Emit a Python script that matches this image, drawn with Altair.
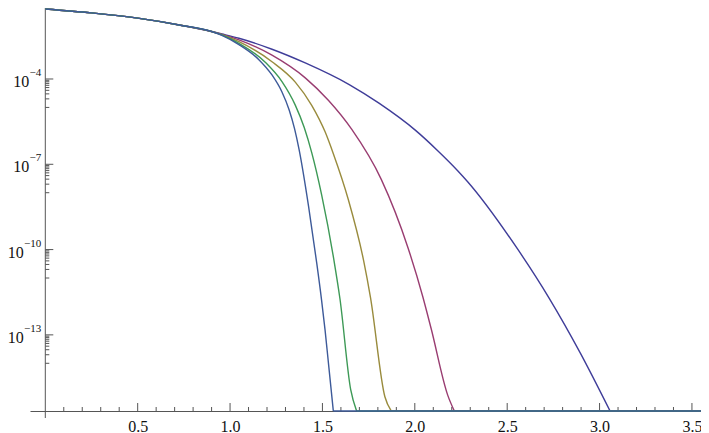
import math
import pandas as pd
import altair as alt

# ---- data (y stored as log10 of the plotted value) ----
COMMON_X = [0.0, 0.25, 0.5, 0.725, 0.9]
COMMON_LOG10_Y = [-1.538, -1.675, -1.86, -2.10, -2.33]

CURVE_NAMES = ["c1", "c2", "c3", "c4", "c5"]
CURVE_COLORS = ["#3F3D99", "#993D71", "#998B3D", "#3D9956", "#3D5A99"]

CURVE_X = [
    [0.956, 1.048, 1.227, 1.407, 1.645, 1.806, 2.004, 2.124, 2.232, 2.286, 2.555, 2.726, 2.896, 3.057],
    [0.956, 1.048, 1.227, 1.407, 1.532, 1.658, 1.819, 1.963, 2.044, 2.088, 2.178, 2.214],
    [0.956, 1.048, 1.227, 1.353, 1.442, 1.515, 1.559, 1.640, 1.723, 1.760, 1.838, 1.873],
    [0.956, 1.048, 1.192, 1.281, 1.353, 1.4015, 1.442, 1.496, 1.562, 1.595, 1.653, 1.685],
    [0.956, 1.048, 1.156, 1.227, 1.281, 1.320, 1.349, 1.3735, 1.425, 1.468, 1.495, 1.514, 1.535, 1.559],
]
CURVE_LOG10_Y = [
    [-2.417, -2.567, -2.953, -3.435, -4.196, -4.851, -5.808, -6.522, -7.225, -7.612, -9.969, -11.696, -13.641, -15.68],
    [-2.428, -2.625, -3.163, -3.961, -4.749, -5.766, -7.539, -9.934, -11.675, -12.769, -15.119, -15.68],
    [-2.442, -2.688, -3.392, -4.109, -4.925, -5.868, -6.628, -8.239, -10.391, -11.682, -15.178, -15.68],
    [-2.452, -2.744, -3.420, -4.091, -4.918, -5.709, -6.592, -8.087, -10.363, -11.738, -14.929, -15.68],
    [-2.463, -2.792, -3.319, -3.858, -4.456, -5.089, -5.746, -6.475, -8.479, -10.421, -11.758, -12.816, -14.153, -15.68],
]

Y_MAJOR = [-4, -7, -10, -13]
Y_EXPONENTS = ["\u22124", "\u22127", "\u221210", "\u221213"]
X_LABEL_VALUES = [0.5, 1.0, 1.5, 2.0, 2.5, 3.0, 3.5]

X_DOMAIN = [-0.0828, 3.549]
Y_DOMAIN = [-15.678, -1.5026]
X_END = X_DOMAIN[1]

# ---- tables ----
rows = []
floor_rows = []
for name, xs, ys in zip(CURVE_NAMES, CURVE_X, CURVE_LOG10_Y):
    for x, y in zip(COMMON_X + xs, COMMON_LOG10_Y + ys):
        rows.append({"curve": name, "x": x, "y": y})
    floor_rows.append({"curve": name, "x": xs[-1], "x2": X_END, "y": Y_DOMAIN[0]})
curves = pd.DataFrame(rows)
floors = pd.DataFrame(floor_rows)

x_ticks = [round(k * 0.1, 1) for k in range(1, 36)]
xt = pd.DataFrame({"x": x_ticks, "floor": [Y_DOMAIN[0]] * len(x_ticks),
                   "major": [abs(v * 2 - round(v * 2)) < 1e-9 for v in x_ticks]})

y_minor = [e - 1 + math.log10(m) for e in Y_MAJOR for m in range(1, 10)]
ymin_df = pd.DataFrame({"y": y_minor, "x0": 0.0})
ymaj_df = pd.DataFrame({"y": Y_MAJOR, "x0": 0.0, "base": ["10"] * 4, "exp": Y_EXPONENTS,
                        "wide": [len(e) > 2 for e in Y_EXPONENTS]})
yaxis_df = pd.DataFrame({"x0": [0.0], "ytop": [Y_DOMAIN[1]], "ybot": [Y_DOMAIN[0]]})

FONT = "Liberation Serif"
AXIS_COLOR = "#555555"
xscale = alt.Scale(domain=X_DOMAIN, nice=False, zero=False)
yscale = alt.Scale(domain=Y_DOMAIN, nice=False, zero=False)
xaxis = alt.Axis(values=X_LABEL_VALUES, format=".1f", title=None, grid=False,
                 ticks=False, tickSize=0, labelFont=FONT, labelFontSize=16,
                 labelColor="#111111", labelBaseline="alphabetic", labelPadding=20,
                 domainColor=AXIS_COLOR, domainWidth=1, labelFlush=False,
                 labelOverlap=False)


def X(field):
    return alt.X(field, scale=xscale, axis=xaxis)


def Y(field):
    return alt.Y(field, scale=yscale, axis=None)


yaxis_line = alt.Chart(yaxis_df).mark_rule(color=AXIS_COLOR, strokeWidth=1, y2Offset=7).encode(
    x=X("x0:Q"), y=Y("ytop:Q"), y2="ybot:Q")

ytick_major = alt.Chart(ymaj_df).mark_rule(color=AXIS_COLOR, strokeWidth=1, x2Offset=8).encode(
    x=X("x0:Q"), x2="x0:Q", y=Y("y:Q"))

ytick_minor = alt.Chart(ymin_df).mark_rule(color=AXIS_COLOR, strokeWidth=1, x2Offset=4).encode(
    x=X("x0:Q"), x2="x0:Q", y=Y("y:Q"))

yexp = alt.Chart(ymaj_df).mark_text(align="right", baseline="alphabetic", dx=-4, dy=-3,
                                    font=FONT, fontSize=11, color="#111111").encode(
    x=X("x0:Q"), y=Y("y:Q"), text="exp:N")

ybase_wide = alt.Chart(ymaj_df).transform_filter("datum.wide").mark_text(
    align="right", baseline="alphabetic", dx=-21.5, dy=8, font=FONT, fontSize=16, color="#111111").encode(
    x=X("x0:Q"), y=Y("y:Q"), text="base:N")

ybase_narrow = alt.Chart(ymaj_df).transform_filter("!datum.wide").mark_text(
    align="right", baseline="alphabetic", dx=-16, dy=8, font=FONT, fontSize=16, color="#111111").encode(
    x=X("x0:Q"), y=Y("y:Q"), text="base:N")

xtick_major = alt.Chart(xt).transform_filter("datum.major").mark_rule(
    color=AXIS_COLOR, strokeWidth=1, y2Offset=-8).encode(x=X("x:Q"), y=Y("floor:Q"), y2="floor:Q")

xtick_minor = alt.Chart(xt).transform_filter("!datum.major").mark_rule(
    color=AXIS_COLOR, strokeWidth=1, y2Offset=-4).encode(x=X("x:Q"), y=Y("floor:Q"), y2="floor:Q")

color = alt.Color("curve:N", scale=alt.Scale(domain=CURVE_NAMES, range=CURVE_COLORS), legend=None)

lines = alt.Chart(curves).mark_line(strokeWidth=1.4, interpolate="monotone", clip=True).encode(
    x=X("x:Q"), y=Y("y:Q"), color=color)

floor_runs = alt.Chart(floors).mark_rule(strokeWidth=1.4).encode(
    x=X("x:Q"), x2="x2:Q", y=Y("y:Q"), color=color)

chart = alt.layer(yaxis_line, ytick_minor, ytick_major, yexp, ybase_wide, ybase_narrow,
                  xtick_minor, xtick_major, lines, floor_runs).properties(
    width=671, height=403,
    autosize=alt.AutoSizeParams(type="none"),
    padding={"left": 22, "top": 0, "right": 0, "bottom": 22},
    background="white",
).configure_view(stroke=None)

chart.save("out.html", embed_options={"renderer": "svg", "actions": False})
